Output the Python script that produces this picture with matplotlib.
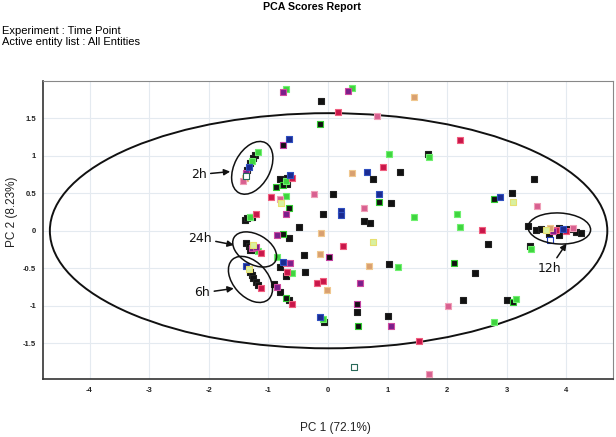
import matplotlib
matplotlib.use("Agg")
import matplotlib.pyplot as plt
from matplotlib.patches import Ellipse
from matplotlib.transforms import Affine2D

plt.rcParams['font.family'] = ['Liberation Sans', 'DejaVu Sans']

# PCA scores: (PC1, PC2, colour code)
pc1 = [-0.76, -0.71, -0.11, 0.34, 0.41, 1.45, 0.16, 0.83, -0.14, -0.66,
       -0.75, 1.03, 1.67, 1.70, 0.93, 1.20, 0.65, 0.41, 0.76, -0.63,
       -0.60, -0.81, -0.68, -0.68, -0.75, -0.88, -0.70, -0.24, 0.08, 0.86,
       -0.96, -0.80, -0.78, -0.70, -0.65, 0.85, 1.05, -0.71, -0.08, 0.21,
       0.21, 0.60, 0.61, 0.70, 1.45, -0.49, -0.86, -0.76, -0.66, -0.11,
       0.76, 0.26, -0.41, -0.13, 0.01, -0.86, -0.75, -0.63, -0.70, 0.68,
       1.03, 1.17, -0.38, -0.80, -0.68, -0.61, -0.70, -0.19, -0.08, -0.01,
       0.53, 0.48, 0.49, 1.00, 1.05, -0.13, -0.09, -0.06, 0.51, 1.52,
       0.44, 1.70, -0.91, -0.85, -0.80, -0.71, -0.66, -0.60, 2.01, 2.27,
       3.00, 3.10, 3.16, 2.79, 2.12, 2.46, 2.22, 2.17, 2.21, 2.59,
       2.68, 2.78, 2.88, 3.08, 3.10, 3.45, 3.51, 3.35, 3.38, 3.41,
       3.73, 3.49, 3.57, 3.65, 3.73, 3.82, 3.87, 3.94, 3.99, 4.04,
       4.11, 4.16, 4.24, 3.70, 3.87, 3.78, -1.18, -1.22, -1.25, -1.28,
       -1.30, -1.33, -1.35, -1.37, -1.38, -1.42, -1.40, -1.38, -1.33, -1.28,
       -1.23, -1.18, -1.13, -1.31, -1.26, -1.20, -1.40, -1.35, -1.31, -1.27,
       -1.20, -1.38, -1.30, -1.27, -1.25, -1.20, -1.17, -1.12, -1.33]
pc2 = [1.85, 1.89, 1.73, 1.86, 1.90, 1.78, 1.58, 1.53, 1.42, 1.22,
       1.14, 1.03, 1.02, 0.99, 0.85, 0.79, 0.78, 0.77, 0.69, 0.75,
       0.71, 0.69, 0.70, 0.63, 0.61, 0.59, 0.66, 0.49, 0.49, 0.49,
       0.45, 0.43, 0.37, 0.46, 0.31, 0.39, 0.37, 0.23, 0.22, 0.27,
       0.21, 0.31, 0.13, 0.10, 0.19, 0.05, -0.06, -0.05, -0.10, -0.03,
       -0.15, -0.21, -0.33, -0.31, -0.35, -0.35, -0.42, -0.43, -0.43, -0.47,
       -0.45, -0.49, -0.55, -0.49, -0.55, -0.57, -0.61, -0.70, -0.67, -0.79,
       -0.70, -0.98, -1.09, -1.14, -1.27, -1.15, -1.18, -1.22, -1.27, -1.47,
       -1.82, -1.91, -0.71, -0.75, -0.82, -0.90, -0.93, -0.98, -1.01, -0.93,
       -0.93, -0.95, -0.91, -1.22, -0.43, -0.57, 1.21, 0.23, 0.05, 0.01,
       -0.18, 0.43, 0.45, 0.50, 0.39, 0.69, 0.33, 0.07, -0.21, -0.25,
       -0.13, 0.01, 0.02, 0.01, 0.03, 0.01, 0.03, 0.02, -0.01, 0.02,
       0.03, -0.02, -0.03, -0.05, -0.06, -0.01, 1.05, 1.01, 0.97, 0.93,
       0.90, 0.85, 0.81, 0.77, 0.73, 0.67, 0.70, -0.17, -0.21, -0.23,
       -0.26, -0.27, -0.30, -0.26, -0.19, -0.22, 0.15, 0.17, 0.19, 0.19,
       0.23, -0.47, -0.55, -0.59, -0.63, -0.69, -0.73, -0.77, -0.51]
groups = ['m', 'g', 'k', 'm', 'g', 't', 'r', 'p', 'kg', 'b',
          'km', 'g', 'k', 'g', 'r', 'k', 'b', 't', 'k', 'b',
          'r', 'k', 'k', 'k', 'kg', 'kg', 'g', 'p', 'k', 'b',
          'r', 'p', 'y', 'g', 'kg', 'kg', 'k', 'm', 'k', 'b',
          'b', 'p', 'k', 'k', 'g', 'k', 'm', 'kg', 'k', 't',
          'y', 'r', 'k', 't', 'km', 'g', 'b', 'm', 'r', 't',
          'k', 'g', 'k', 'k', 'r', 'g', 'k', 'r', 'r', 't',
          'm', 'km', 'k', 'k', 'm', 'b', 'g', 'k', 'kg', 'r',
          'w', 'p', 'k', 'm', 'k', 'kg', 'k', 'r', 'p', 'k',
          'k', 'kg', 'g', 'g', 'kg', 'k', 'r', 'g', 'g', 'r',
          'k', 'kg', 'b', 'k', 'y', 'k', 'p', 'k', 'k', 'g',
          'wb', 'k', 'k', 'y', 't', 'r', 'k', 'b', 'r', 'k',
          'p', 'k', 'k', 'k', 'k', 'm', 'g', 'k', 'k', 'g',
          'k', 'b', 'k', 'm', 'w', 'p', 't', 'k', 'k', 'm',
          'k', 'g', 'r', 'k', 'y', 'm', 'k', 'k', 'g', 'k',
          'r', 'b', 'k', 'k', 'k', 'k', 'k', 'r', 'y']

face = {'k': '#111111', 'kg': '#111111', 'km': '#151015', 'g': '#3fd43f',
        'r': '#c8164a', 'm': '#7a1f8a', 'b': '#1a2a90', 't': '#d9a070',
        'p': '#d86090', 'y': '#d8f0a0', 'w': '#ffffff', 'wb': '#ffffff'}
edge = {'k': '#222222', 'kg': '#33cc33', 'km': '#c040a0', 'g': '#70f070',
        'r': '#f06080', 'm': '#d04aa0', 'b': '#3050c0', 't': '#f0c890',
        'p': '#f0a0b8', 'y': '#e8e070', 'w': '#2a6a5a', 'wb': '#2040c0'}

# confidence ellipse and the circled time-point groups
big_ellipse = (0.01, 0.0, 9.35, 3.14)
groups_circled = ['2h', '24h', '6h', '12h']
circ_center = [(-1.27, 0.84), (-1.23, -0.25), (-1.30, -0.65), (3.88, 0.03)]
circ_size = [(0.95, 0.60, 62), (0.80, 0.50, -30), (0.90, 0.58, -48), (1.05, 0.52, -3)]
label_pos = [(-2.17, 0.75), (-2.15, -0.10), (-2.11, -0.83), (3.72, -0.50)]
arrow_tip = [(-1.64, 0.79), (-1.58, -0.19), (-1.58, -0.77), (4.00, -0.17)]

xticks = [-4, -3, -2, -1, 0, 1, 2, 3, 4]
yticks = [-1.5, -1, -0.5, 0, 0.5, 1, 1.5]
ytick_labels = ['-1.5', '-1', '-0.5', '0', '0.5', '1', '1.5']

fig = plt.figure(figsize=(6.16, 4.37), dpi=100)
ax = fig.add_axes([0.0698, 0.1327, 0.9253, 0.682])
xlim = (-4.78, 4.78)
ylim = (-1.98, 2.0)
ax.set_xlim(*xlim)
ax.set_ylim(*ylim)

ax.set_xticks(xticks)
ax.set_xticklabels([str(t) for t in xticks])
ax.set_yticks(yticks)
ax.set_yticklabels(ytick_labels)
ax.tick_params(length=0, labelsize=5.5, colors='#222222')
ax.tick_params(axis='x', pad=6)
ax.tick_params(axis='y', pad=5)
for lab in ax.get_xticklabels() + ax.get_yticklabels():
    lab.set_fontweight('bold')
ax.grid(True, color='#e4eaf0', lw=0.8)
ax.set_axisbelow(True)
for side in ['top', 'right']:
    ax.spines[side].set_color('#888888')
for side in ['left', 'bottom']:
    ax.spines[side].set_color('#333333')
    ax.spines[side].set_linewidth(1.2)

cx, cy, w, h = big_ellipse
ax.add_patch(Ellipse((cx, cy), w, h, fill=False, ec='#111111', lw=1.4, zorder=3))

for g in face:
    xs = [x for x, c in zip(pc1, groups) if c == g]
    ys = [y for y, c in zip(pc2, groups) if c == g]
    ax.scatter(xs, ys, marker='s', s=15, c=face[g], edgecolors=edge[g],
               linewidths=0.8, zorder=4)

# keep circles round-ish in screen space: lengths in x units
ratio = ((ylim[1] - ylim[0]) / (0.682 * 4.37)) / ((xlim[1] - xlim[0]) / (0.9253 * 6.16))
for name, c, (ew, eh, ang), tp, tip in zip(groups_circled, circ_center, circ_size,
                                           label_pos, arrow_tip):
    tr = Affine2D().scale(1, ratio).translate(c[0], c[1]) + ax.transData
    ax.add_patch(Ellipse((0, 0), ew, eh, angle=ang, fill=False, ec='#111111',
                         lw=1.1, transform=tr, zorder=5))
    ax.annotate(name, xy=tip, xytext=tp, ha='center', va='center', fontsize=9,
                family=['DejaVu Sans'], color='#111111', zorder=6,
                arrowprops=dict(arrowstyle='-|>', color='#111111', lw=1.1,
                                mutation_scale=9, shrinkA=1, shrinkB=0))

fig.text(312 / 616, 1 - 7 / 437, 'PCA Scores Report', ha='center', va='center',
         fontsize=7.7, fontweight='bold')
fig.text(2 / 616, 1 - 31 / 437, 'Experiment : Time Point', ha='left', va='center',
         fontsize=8)
fig.text(2 / 616, 1 - 42 / 437, 'Active entity list : All Entities', ha='left',
         va='center', fontsize=8)
fig.text(12 / 616, 1 - 212 / 437, 'PC 2 (8.23%)', rotation=90, ha='center',
         va='center', fontsize=8.5, color='#222222')
fig.text(335 / 616, 1 - 428 / 437, 'PC 1 (72.1%)', ha='center', va='center',
         fontsize=8.5, color='#222222')

fig.savefig('out.png', dpi=100)
